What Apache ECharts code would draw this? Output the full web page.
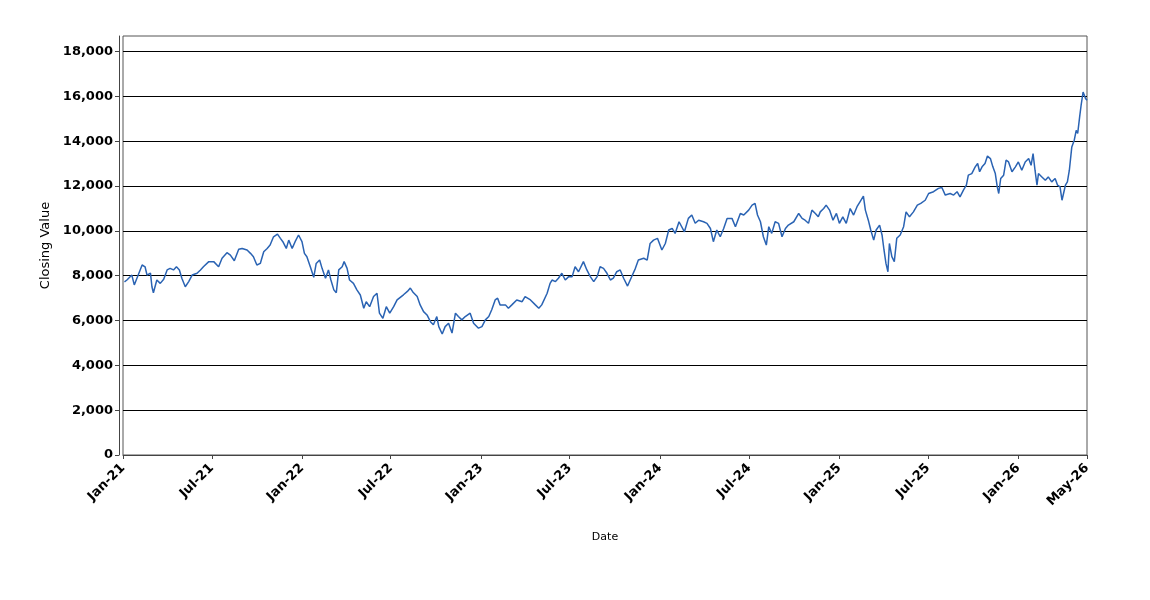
<!DOCTYPE html>
<html>
<head>
<meta charset="utf-8">
<title>Closing Value</title>
<script src="https://cdn.jsdelivr.net/npm/echarts@6/dist/echarts.min.js"></script>
<style>
    html, body { margin: 0; padding: 0; background: #fff; }
    #chart { width: 1150px; height: 600px; }
</style>
</head>
<body>
<div id="chart"></div>
<script>
// dates and closing values
var dates = [
    '2021-01-04', '2021-01-09', '2021-01-19', '2021-01-24', '2021-02-01', '2021-02-09', '2021-02-15', '2021-02-19',
    '2021-02-26', '2021-03-01', '2021-03-04', '2021-03-11', '2021-03-18', '2021-03-25', '2021-04-01', '2021-04-07',
    '2021-04-14', '2021-04-20', '2021-04-26', '2021-05-01', '2021-05-08', '2021-05-15', '2021-05-22', '2021-06-01',
    '2021-06-08', '2021-06-14', '2021-06-25', '2021-07-05', '2021-07-15', '2021-07-22', '2021-08-01', '2021-08-08',
    '2021-08-16', '2021-08-25', '2021-09-01', '2021-09-11', '2021-09-18', '2021-09-24', '2021-10-01', '2021-10-08',
    '2021-10-15', '2021-10-22', '2021-10-28', '2021-11-04', '2021-11-12', '2021-11-18', '2021-11-23', '2021-11-30',
    '2021-12-05', '2021-12-12', '2021-12-18', '2021-12-25', '2022-01-01', '2022-01-06', '2022-01-11', '2022-01-18',
    '2022-01-25', '2022-01-30', '2022-02-06', '2022-02-11', '2022-02-18', '2022-02-24', '2022-03-01', '2022-03-07',
    '2022-03-12', '2022-03-17', '2022-03-24', '2022-03-28', '2022-04-03', '2022-04-08', '2022-04-16', '2022-04-23',
    '2022-04-30', '2022-05-07', '2022-05-12', '2022-05-19', '2022-05-27', '2022-06-03', '2022-06-08', '2022-06-15',
    '2022-06-22', '2022-06-29', '2022-07-07', '2022-07-14', '2022-07-27', '2022-08-04', '2022-08-10', '2022-08-16',
    '2022-08-24', '2022-08-30', '2022-09-06', '2022-09-13', '2022-09-20', '2022-09-26', '2022-10-03', '2022-10-07',
    '2022-10-14', '2022-10-20', '2022-10-27', '2022-11-03', '2022-11-10', '2022-11-16', '2022-11-23', '2022-11-30',
    '2022-12-10', '2022-12-17', '2022-12-27', '2023-01-03', '2023-01-10', '2023-01-17', '2023-01-23', '2023-01-30',
    '2023-02-04', '2023-02-09', '2023-02-20', '2023-02-26', '2023-03-05', '2023-03-15', '2023-03-26', '2023-04-01',
    '2023-04-12', '2023-04-22', '2023-04-29', '2023-05-05', '2023-05-16', '2023-05-22', '2023-05-26', '2023-06-02',
    '2023-06-08', '2023-06-15', '2023-06-22', '2023-06-29', '2023-07-06', '2023-07-12', '2023-07-19', '2023-07-29',
    '2023-08-05', '2023-08-12', '2023-08-19', '2023-08-26', '2023-09-01', '2023-09-08', '2023-09-15', '2023-09-22',
    '2023-09-28', '2023-10-05', '2023-10-12', '2023-10-19', '2023-10-27', '2023-11-03', '2023-11-12', '2023-11-18',
    '2023-11-29', '2023-12-06', '2023-12-12', '2023-12-19', '2023-12-27', '2024-01-05', '2024-01-12', '2024-01-19',
    '2024-01-26', '2024-02-01', '2024-02-09', '2024-02-20', '2024-02-28', '2024-03-06', '2024-03-13', '2024-03-20',
    '2024-03-30', '2024-04-06', '2024-04-13', '2024-04-19', '2024-04-26', '2024-05-03', '2024-05-10', '2024-05-17',
    '2024-05-27', '2024-06-03', '2024-06-13', '2024-06-20', '2024-06-30', '2024-07-07', '2024-07-13', '2024-07-18',
    '2024-07-24', '2024-07-30', '2024-08-05', '2024-08-10', '2024-08-16', '2024-08-23', '2024-08-30', '2024-09-06',
    '2024-09-13', '2024-09-19', '2024-09-30', '2024-10-10', '2024-10-17', '2024-10-23', '2024-10-30', '2024-11-06',
    '2024-11-13', '2024-11-19', '2024-11-23', '2024-11-30', '2024-12-05', '2024-12-12', '2024-12-19', '2024-12-26',
    '2025-01-01', '2025-01-08', '2025-01-15', '2025-01-23', '2025-01-30', '2025-02-06', '2025-02-12', '2025-02-19',
    '2025-02-23', '2025-03-01', '2025-03-06', '2025-03-12', '2025-03-17', '2025-03-24', '2025-03-29', '2025-04-02',
    '2025-04-06', '2025-04-10', '2025-04-13', '2025-04-18', '2025-04-23', '2025-04-28', '2025-05-05', '2025-05-12',
    '2025-05-17', '2025-05-24', '2025-06-01', '2025-06-09', '2025-06-16', '2025-06-25', '2025-07-02', '2025-07-12',
    '2025-07-22', '2025-07-29', '2025-08-05', '2025-08-15', '2025-08-22', '2025-08-29', '2025-09-04', '2025-09-11',
    '2025-09-17', '2025-09-21', '2025-09-28', '2025-10-05', '2025-10-10', '2025-10-14', '2025-10-19', '2025-10-25',
    '2025-10-30', '2025-11-05', '2025-11-10', '2025-11-15', '2025-11-19', '2025-11-22', '2025-11-26', '2025-12-02',
    '2025-12-07', '2025-12-12', '2025-12-19', '2025-12-26', '2026-01-01', '2026-01-08', '2026-01-15', '2026-01-22',
    '2026-01-27', '2026-01-31', '2026-02-04', '2026-02-08', '2026-02-11', '2026-02-18', '2026-02-25', '2026-03-03',
    '2026-03-10', '2026-03-17', '2026-03-22', '2026-03-27', '2026-03-31', '2026-04-03', '2026-04-07', '2026-04-11',
    '2026-04-15', '2026-04-20', '2026-04-25', '2026-04-29', '2026-05-02', '2026-05-06', '2026-05-09', '2026-05-13',
    '2026-05-15', '2026-05-18', '2026-05-21'
];
var closes = [
    7730, 7810, 8030, 7590, 8030, 8480, 8400, 8030,
    8120, 7510, 7240, 7810, 7660, 7840, 8260, 8330,
    8260, 8400, 8260, 7890, 7510, 7740, 8030, 8110,
    8260, 8400, 8630, 8630, 8400, 8780, 9030, 8920,
    8670, 9180, 9220, 9150, 9000, 8850, 8480, 8550,
    9070, 9220, 9370, 9740, 9860, 9670, 9520, 9220,
    9590, 9220, 9520, 9820, 9520, 9000, 8850, 8400,
    7930, 8550, 8700, 8330, 7890, 8260, 7810, 7370,
    7240, 8260, 8400, 8630, 8330, 7810, 7660, 7370,
    7140, 6550, 6840, 6620, 7070, 7220, 6330, 6100,
    6620, 6330, 6620, 6920, 7150, 7300, 7450, 7250,
    7070, 6700, 6400, 6250, 5950, 5810, 6180, 5730,
    5400, 5730, 5880, 5440, 6330, 6180, 6030, 6180,
    6330, 5880, 5660, 5730, 6030, 6180, 6480, 6920,
    7000, 6700, 6700, 6550, 6700, 6920, 6840, 7070,
    6920, 6700, 6550, 6700, 7220, 7660, 7810, 7740,
    7890, 8110, 7810, 7960, 7960, 8400, 8180, 8630,
    8260, 7960, 7740, 7960, 8400, 8330, 8110, 7810,
    7890, 8180, 8260, 7890, 7540, 7890, 8330, 8700,
    8780, 8700, 9440, 9590, 9670, 9150, 9440, 10040,
    10110, 9890, 10410, 9960, 10560, 10710, 10340, 10480,
    10410, 10340, 10110, 9520, 10040, 9740, 10110, 10560,
    10560, 10190, 10780, 10710, 10930, 11150, 11230, 10710,
    10410, 9740, 9370, 10190, 9890, 10410, 10340, 9740,
    10110, 10260, 10410, 10780, 10560, 10480, 10340, 10930,
    10780, 10630, 10850, 11000, 11150, 10930, 10480, 10780,
    10340, 10630, 10340, 11000, 10710, 11080, 11300, 11550,
    10930, 10480, 10040, 9590, 10040, 10260, 9820, 9150,
    8550, 8180, 9440, 8850, 8630, 9670, 9820, 10190,
    10850, 10630, 10850, 11150, 11230, 11370, 11670, 11750,
    11900, 11940, 11600, 11670, 11600, 11750, 11520, 11820,
    12040, 12490, 12560, 12860, 13010, 12640, 12860, 13010,
    13340, 13230, 12860, 12560, 11970, 11670, 12340, 12490,
    13160, 13080, 12640, 12860, 13080, 12710, 13080, 13230,
    12930, 13450, 12710, 12040, 12560, 12410, 12260, 12410,
    12190, 12340, 12040, 11970, 11370, 11300, 12040, 12190,
    12710, 13750, 14050, 14490, 14350, 15090, 15610, 16200,
    16280, 15910, 15830
];
// x tick labels: start of Jan / Jul each year, plus the last date
var xTickDates = [
    '2021-01-01', '2021-07-01', '2022-01-01', '2022-07-01', '2023-01-01', '2023-07-01',
    '2024-01-01', '2024-07-01', '2025-01-01', '2025-07-01', '2026-01-01', '2026-05-21'
];
var monthNames = ['Jan', 'Feb', 'Mar', 'Apr', 'May', 'Jun', 'Jul', 'Aug', 'Sep', 'Oct', 'Nov', 'Dec'];

function toTime(s) {
    var p = s.split('-');
    return new Date(+p[0], +p[1] - 1, +p[2]).getTime();
}

var seriesData = [];
for (var i = 0; i < dates.length; i++) {
    seriesData.push([toTime(dates[i]), closes[i]]);
}
var tickValues = xTickDates.map(toTime);

var chart = echarts.init(document.getElementById('chart'), null, {renderer: 'canvas'});
var labelFont = {
    fontFamily: 'DejaVu Sans',
    fontSize: 13,
    fontWeight: 'bold',
    color: '#000'
};
var option = {
    backgroundColor: '#fff',
    animation: false,
    grid: {
        left: 123,
        right: 63,
        top: 36,
        bottom: 145,
        show: true,
        borderColor: '#555',
        borderWidth: 1,
        backgroundColor: '#fff'
    },
    xAxis: {
        // timestamps on a value axis, so the ticks can sit on chosen dates
        type: 'value',
        min: toTime('2021-01-01'),
        max: toTime('2026-05-21'),
        name: 'Date',
        nameLocation: 'middle',
        nameGap: 72,
        nameTextStyle: {fontFamily: 'DejaVu Sans', fontSize: 11, color: '#000'},
        offset: 5,
        axisLine: {show: true, lineStyle: {color: '#444', width: 1}},
        axisTick: {show: true, length: 4, customValues: tickValues, lineStyle: {color: '#444'}},
        axisLabel: Object.assign({
            customValues: tickValues,
            rotate: 45,
            margin: 6,
            formatter: function (value) {
                var d = new Date(value);
                var yy = String(d.getFullYear()).slice(2);
                return monthNames[d.getMonth()] + '-' + yy;
            }
        }, labelFont),
        splitLine: {show: false}
    },
    yAxis: {
        type: 'value',
        min: 0,
        max: 18700,
        interval: 2000,
        name: 'Closing Value',
        nameLocation: 'middle',
        nameGap: 67,
        nameTextStyle: {fontFamily: 'DejaVu Sans', fontSize: 13, color: '#000'},
        offset: 4,
        axisLine: {show: true, lineStyle: {color: '#444', width: 1}},
        axisTick: {show: true, length: 4, lineStyle: {color: '#444'}},
        axisLabel: Object.assign({
            showMaxLabel: false,
            margin: 6,
            formatter: function (v) {
                return v.toLocaleString('en-US');
            }
        }, labelFont),
        splitLine: {show: true, showMaxLine: false, lineStyle: {color: '#000', width: 1}}
    },
    series: [
        {
            name: 'Closing Value',
            type: 'line',
            data: seriesData,
            showSymbol: false,
            lineStyle: {color: '#2a63b3', width: 1.5},
            itemStyle: {color: '#2a63b3'}
        }
    ]
};
chart.setOption(option);
</script>
</body>
</html>
